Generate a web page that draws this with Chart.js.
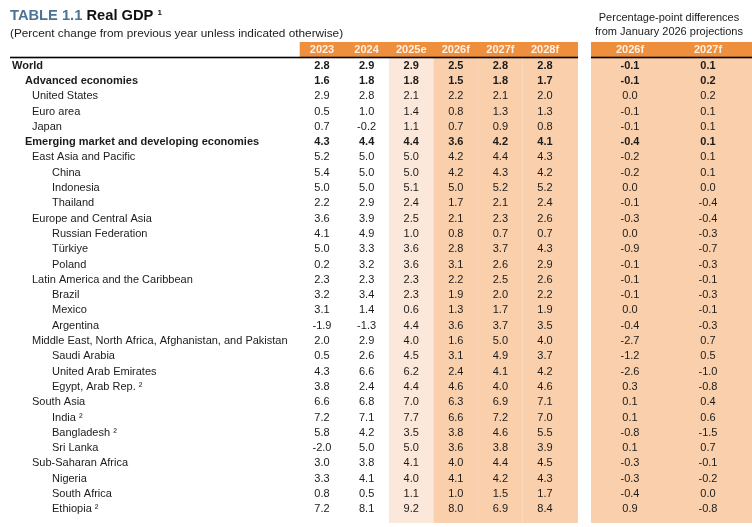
<!DOCTYPE html>
<html>
<head>
<meta charset="utf-8">
<script src="https://cdn.jsdelivr.net/npm/chart.js@4.4.1/dist/chart.umd.min.js"></script>
<style>
  html, body { margin: 0; padding: 0; background: #fff; }
  #wrap { position: relative; width: 752px; height: 527px; overflow: hidden; }
  canvas { position: absolute; top: 0; }
  #left { left: 0; }
  #right { left: 580px; }
</style>
</head>
<body>
<div id="wrap">
  <canvas id="left" width="580" height="527"></canvas>
  <canvas id="right" width="172" height="527"></canvas>
</div>
<script>
// ---- datos de la tabla
const rowNames = [
  "World", "Advanced economies", "United States", "Euro area", "Japan",
  "Emerging market and developing economies",
  "East Asia and Pacific", "China", "Indonesia", "Thailand",
  "Europe and Central Asia", "Russian Federation", "Türkiye", "Poland",
  "Latin America and the Caribbean", "Brazil", "Mexico", "Argentina",
  "Middle East, North Africa, Afghanistan, and Pakistan", "Saudi Arabia",
  "United Arab Emirates", "Egypt, Arab Rep. ²",
  "South Asia", "India ²", "Bangladesh ²", "Sri Lanka",
  "Sub-Saharan Africa", "Nigeria", "South Africa", "Ethiopia ²"
];
// 0 = world, 1 = group, 2 = region / economy, 3 = country
const rowLevel = [0,1,2,2,2,1,2,3,3,3,2,3,3,3,2,3,3,3,2,3,3,3,2,3,3,3,2,3,3,3];

const yearCols = ["2023", "2024", "2025e", "2026f", "2027f", "2028f"];
const diffCols = ["2026f", "2027f"];

const g2023 = [2.8,1.6,2.9,0.5,0.7,4.3,5.2,5.4,5.0,2.2,3.6,4.1,5.0,0.2,2.3,3.2,3.1,-1.9,2.0,0.5,4.3,3.8,6.6,7.2,5.8,-2.0,3.0,3.3,0.8,7.2];
const g2024 = [2.9,1.8,2.8,1.0,-0.2,4.4,5.0,5.0,5.0,2.9,3.9,4.9,3.3,3.2,2.3,3.4,1.4,-1.3,2.9,2.6,6.6,2.4,6.8,7.1,4.2,5.0,3.8,4.1,0.5,8.1];
const g2025 = [2.9,1.8,2.1,1.4,1.1,4.4,5.0,5.0,5.1,2.4,2.5,1.0,3.6,3.6,2.3,2.3,0.6,4.4,4.0,4.5,6.2,4.4,7.0,7.7,3.5,5.0,4.1,4.0,1.1,9.2];
const g2026 = [2.5,1.5,2.2,0.8,0.7,3.6,4.2,4.2,5.0,1.7,2.1,0.8,2.8,3.1,2.2,1.9,1.3,3.6,1.6,3.1,2.4,4.6,6.3,6.6,3.8,3.6,4.0,4.1,1.0,8.0];
const g2027 = [2.8,1.8,2.1,1.3,0.9,4.2,4.4,4.3,5.2,2.1,2.3,0.7,3.7,2.6,2.5,2.0,1.7,3.7,5.0,4.9,4.1,4.0,6.9,7.2,4.6,3.8,4.4,4.2,1.5,6.9];
const g2028 = [2.8,1.7,2.0,1.3,0.8,4.1,4.3,4.2,5.2,2.4,2.6,0.7,4.3,2.9,2.6,2.2,1.9,3.5,4.0,3.7,4.2,4.6,7.1,7.0,5.5,3.9,4.5,4.3,1.7,8.4];

// diferencias frente a las proyecciones de enero 2026
const d2026 = [-0.1,-0.1,0.0,-0.1,-0.1,-0.4,-0.2,-0.2,0.0,-0.1,-0.3,0.0,-0.9,-0.1,-0.1,-0.1,0.0,-0.4,-2.7,-1.2,-2.6,0.3,0.1,0.1,-0.8,0.1,-0.3,-0.3,-0.4,0.9];
const d2027 = [0.1,0.2,0.2,0.1,0.1,0.1,0.1,0.1,0.0,-0.4,-0.4,-0.3,-0.7,-0.3,-0.1,-0.3,-0.1,-0.3,0.7,0.5,-1.0,-0.8,0.4,0.6,-1.5,0.7,-0.1,-0.2,0.0,-0.8];

// ---- estilo
const ORANGE = "#ee8f3d", LIGHT = "#fce8da", PEACH = "#f9cfac";
const INK = "#1b1b1b";
const FONT = "'Liberation Sans', Arial, sans-serif";
const fnt = (size, bold) => `${bold ? "bold " : ""}${size}px ${FONT}`;

function datasetsFor(cols, series) {
  return cols.map((c, i) => ({
    label: c,
    data: rowNames.map((n, r) => ({ x: c, y: n, v: series[i][r] })),
    pointRadius: 0
  }));
}

// dibuja fondo de columnas, cabecera naranja y los valores de cada celda
function tablePlugin(o) {
  return {
    id: "table",
    beforeDatasetsDraw(chart) {
      const { ctx, chartArea: a, scales: { x, y } } = chart;
      const colW = (a.right - a.left) / x.getLabels().length;
      const rowH = (a.bottom - a.top) / rowNames.length;
      const rightEnd = a.right + o.extendRight;
      ctx.save();
      o.shade.forEach((col, i) => {
        if (!col) return;
        const l = x.getPixelForValue(i) - colW / 2;
        const r = i === o.shade.length - 1 ? rightEnd : l + colW;
        ctx.fillStyle = col;
        ctx.fillRect(l, a.top, r - l, a.bottom - a.top + rowH * 0.42);
      });
      // cabecera
      ctx.fillStyle = ORANGE;
      ctx.fillRect(a.left, a.top - 15.5, rightEnd - a.left, 15.5);
      ctx.fillStyle = "#000";
      ctx.fillRect(o.lineLeft, a.top - 0.8, rightEnd - o.lineLeft, 1.6);
      ctx.fillStyle = "#fdf0e4";
      ctx.font = fnt(11, true);
      ctx.textAlign = "center";
      ctx.textBaseline = "middle";
      x.getLabels().forEach((lab, i) => ctx.fillText(lab, x.getPixelForValue(i), a.top - 7.5));
      ctx.restore();
    },
    afterDatasetsDraw(chart) {
      const { ctx } = chart;
      ctx.save();
      ctx.fillStyle = INK;
      ctx.textAlign = "center";
      ctx.textBaseline = "middle";
      chart.data.datasets.forEach((ds, d) => {
        chart.getDatasetMeta(d).data.forEach((pt, r) => {
          ctx.font = fnt(11, rowLevel[r] < 2);
          ctx.fillText(ds.data[r].v.toFixed(1), pt.x, pt.y + 0.5);
        });
      });
      ctx.restore();
      if (o.after) o.after(chart);
    }
  };
}

const baseOptions = (padding) => ({
  responsive: false,
  animation: false,
  events: [],
  layout: { padding },
  plugins: { legend: { display: false }, tooltip: { enabled: false } },
  scales: {
    x: { type: "category", offset: true, display: false },
    y: { type: "category", labels: rowNames, offset: true, display: false }
  }
});

// ---- tabla principal (izquierda)
const leftOpts = baseOptions({ left: 299.7, right: 12.7, top: 57.5, bottom: 10.5 });
leftOpts.scales.x.labels = yearCols;
new Chart(document.getElementById("left"), {
  type: "scatter",
  data: { datasets: datasetsFor(yearCols, [g2023, g2024, g2025, g2026, g2027, g2028]) },
  options: leftOpts,
  plugins: [tablePlugin({
    shade: [null, null, LIGHT, PEACH, PEACH, PEACH],
    extendRight: 10.7,
    lineLeft: 10,
    after(chart) {
      const { ctx, scales: { y } } = chart;
      const indent = [12, 25, 32, 52];
      ctx.save();
      ctx.fillStyle = INK;
      ctx.textBaseline = "middle";
      rowNames.forEach((n, r) => {
        ctx.font = fnt(11, rowLevel[r] < 2);
        ctx.fillText(n, indent[rowLevel[r]], y.getPixelForValue(r) + 0.5);
      });
      // titulo
      ctx.textBaseline = "alphabetic";
      ctx.font = fnt(14.7, true);
      ctx.fillStyle = "#4d7396";
      const t1 = "TABLE 1.1 ";
      ctx.fillText(t1, 10, 20);
      const w1 = ctx.measureText(t1).width;
      ctx.fillStyle = "#111";
      const t2 = "Real GDP ";
      ctx.fillText(t2, 10 + w1, 20);
      const w2 = ctx.measureText(t2).width;
      ctx.font = fnt(8, true);
      ctx.fillText("1", 10 + w1 + w2, 15);
      ctx.font = fnt(11.8, false);
      ctx.fillStyle = INK;
      ctx.fillText("(Percent change from previous year unless indicated otherwise)", 10, 36.5);
      ctx.restore();
    }
  })]
});

// ---- diferencias (derecha)
const rightOpts = baseOptions({ left: 11, right: 5, top: 57.5, bottom: 10.5 });
rightOpts.scales.x.labels = diffCols;
new Chart(document.getElementById("right"), {
  type: "scatter",
  data: { datasets: datasetsFor(diffCols, [d2026, d2027]) },
  options: rightOpts,
  plugins: [tablePlugin({
    shade: [PEACH, PEACH],
    extendRight: 5,
    lineLeft: 11,
    after(chart) {
      const { ctx, chartArea: a } = chart;
      const cx = (a.left + a.right) / 2;
      ctx.save();
      ctx.fillStyle = INK;
      ctx.font = fnt(11, false);
      ctx.textAlign = "center";
      ctx.fillText("Percentage-point differences", cx, 21);
      ctx.fillText("from January 2026 projections", cx, 35);
      ctx.restore();
    }
  })]
});
</script>
</body>
</html>
